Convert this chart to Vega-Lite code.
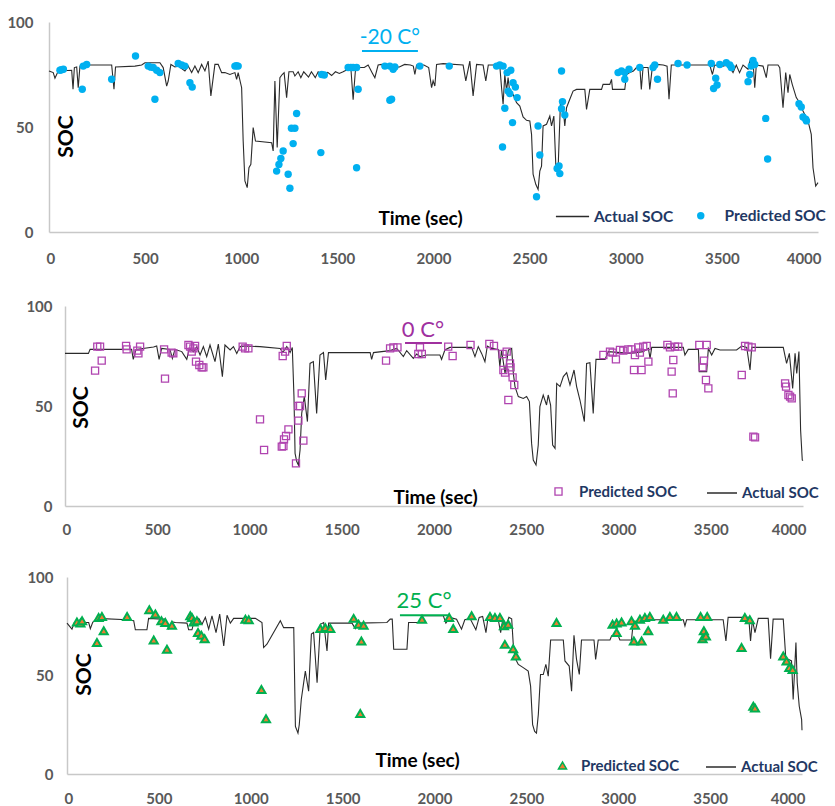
{
  "$schema": "https://vega.github.io/schema/vega-lite/v6.json",
  "background": "white",
  "padding": {"left": 0, "top": 15, "right": 0, "bottom": 0},
  "spacing": 32,
  "columns": 1,
  "config": {
    "view": {"stroke": null},
    "font": "Lato, sans-serif"
  },
  "datasets": {
    "p1a": [
      {"t":0,"soc":76.7},{"t":22,"soc":75.9},{"t":31,"soc":73.2},{"t":48,"soc":76.7},{"t":118,"soc":77},{"t":125,"soc":68},{"t":132,"soc":78.3},{"t":144,"soc":78.6},{"t":152,"soc":68.7},{"t":161,"soc":79},{"t":170,"soc":79.5},{"t":326,"soc":79.5},{"t":338,"soc":68},{"t":346,"soc":78.6},{"t":447,"soc":79},{"t":482,"soc":79.5},{"t":499,"soc":80.6},{"t":577,"soc":80.6},{"t":594,"soc":78.3},{"t":612,"soc":69.5},{"t":620,"soc":71.9},{"t":634,"soc":79.8},{"t":655,"soc":78.6},{"t":672,"soc":79},{"t":707,"soc":76.7},{"t":724,"soc":79},{"t":742,"soc":75.9},{"t":759,"soc":79},{"t":776,"soc":75.9},{"t":794,"soc":79.8},{"t":811,"soc":76.7},{"t":828,"soc":81.4},{"t":842,"soc":64.8},{"t":863,"soc":79.8},{"t":880,"soc":79.8},{"t":898,"soc":75.9},{"t":915,"soc":75.9},{"t":941,"soc":75},{"t":967,"soc":75.9},{"t":976,"soc":72.7},{"t":984,"soc":75.9},{"t":1002,"soc":68.7},{"t":1010,"soc":43.3},{"t":1019,"soc":24.3},{"t":1031,"soc":21.1},{"t":1040,"soc":30.6},{"t":1050,"soc":32.2},{"t":1062,"soc":49.7},{"t":1074,"soc":43.3},{"t":1158,"soc":42.5},{"t":1166,"soc":38.6},{"t":1175,"soc":71.9},{"t":1187,"soc":40.2},{"t":1201,"soc":73.5},{"t":1213,"soc":75},{"t":1223,"soc":75.9},{"t":1236,"soc":64},{"t":1248,"soc":76.3},{"t":1270,"soc":76.3},{"t":1279,"soc":74.3},{"t":1296,"soc":76.3},{"t":1310,"soc":73.5},{"t":1325,"soc":76.3},{"t":1350,"soc":73.8},{"t":1365,"soc":76.3},{"t":1385,"soc":73.5},{"t":1400,"soc":76.3},{"t":1420,"soc":75},{"t":1450,"soc":76},{"t":1470,"soc":74.5},{"t":1490,"soc":76.3},{"t":1510,"soc":75.5},{"t":1530,"soc":76.3},{"t":1555,"soc":77.5},{"t":1570,"soc":78.3},{"t":1582,"soc":63},{"t":1595,"soc":78.3},{"t":1640,"soc":78.3},{"t":1660,"soc":79.5},{"t":1680,"soc":76},{"t":1695,"soc":73.5},{"t":1712,"soc":79.5},{"t":1729,"soc":79.8},{"t":1760,"soc":78.5},{"t":1790,"soc":79.5},{"t":1820,"soc":78.5},{"t":1850,"soc":79.8},{"t":1880,"soc":79.5},{"t":1895,"soc":79},{"t":1903,"soc":75},{"t":1912,"soc":79.5},{"t":1950,"soc":79.5},{"t":1975,"soc":78.3},{"t":1990,"soc":68.7},{"t":1998,"soc":72},{"t":2007,"soc":69.5},{"t":2016,"soc":79.8},{"t":2050,"soc":80.2},{"t":2154,"soc":79.5},{"t":2168,"soc":72},{"t":2189,"soc":81.4},{"t":2206,"soc":64.8},{"t":2224,"soc":79.8},{"t":2258,"soc":79.5},{"t":2272,"soc":72},{"t":2285,"soc":79.5},{"t":2328,"soc":79.5},{"t":2345,"soc":79},{"t":2354,"soc":68.7},{"t":2362,"soc":60.8},{"t":2371,"soc":75},{"t":2380,"soc":67.1},{"t":2388,"soc":73.5},{"t":2397,"soc":66.3},{"t":2414,"soc":65.5},{"t":2432,"soc":61.6},{"t":2449,"soc":60},{"t":2466,"soc":54.8},{"t":2484,"soc":53.2},{"t":2501,"soc":52.9},{"t":2510,"soc":46.5},{"t":2518,"soc":27.5},{"t":2532,"soc":22.7},{"t":2544,"soc":20.3},{"t":2553,"soc":29},{"t":2562,"soc":31.4},{"t":2570,"soc":50.5},{"t":2588,"soc":51.3},{"t":2605,"soc":55.2},{"t":2614,"soc":50.5},{"t":2626,"soc":55.2},{"t":2636,"soc":32.2},{"t":2648,"soc":29.8},{"t":2660,"soc":60.8},{"t":2674,"soc":59.2},{"t":2683,"soc":50.5},{"t":2692,"soc":59.2},{"t":2709,"soc":63.2},{"t":2726,"soc":67.1},{"t":2744,"soc":67.9},{"t":2787,"soc":67.9},{"t":2796,"soc":58.4},{"t":2813,"soc":67.9},{"t":2874,"soc":67.9},{"t":2882,"soc":70.3},{"t":2917,"soc":70.3},{"t":2926,"soc":72.7},{"t":2931,"soc":67.9},{"t":2995,"soc":67.9},{"t":3004,"soc":75},{"t":3021,"soc":75.9},{"t":3040,"soc":76.7},{"t":3056,"soc":78.3},{"t":3073,"soc":79},{"t":3081,"soc":67.9},{"t":3090,"soc":78.3},{"t":3116,"soc":78.3},{"t":3125,"soc":67.9},{"t":3138,"soc":78.3},{"t":3160,"soc":79.8},{"t":3195,"soc":79.5},{"t":3215,"soc":79},{"t":3225,"soc":63.2},{"t":3237,"soc":79.5},{"t":3298,"soc":79.5},{"t":3437,"soc":79.5},{"t":3451,"soc":75},{"t":3462,"soc":79.5},{"t":3506,"soc":79},{"t":3525,"soc":79.5},{"t":3541,"soc":78.3},{"t":3558,"soc":75.9},{"t":3575,"soc":79.5},{"t":3592,"soc":75.9},{"t":3610,"soc":79.5},{"t":3636,"soc":77.5},{"t":3645,"soc":81.4},{"t":3662,"soc":81.4},{"t":3671,"soc":68.7},{"t":3679,"soc":79.5},{"t":3714,"soc":79},{"t":3731,"soc":73.5},{"t":3740,"soc":79.5},{"t":3792,"soc":79.5},{"t":3801,"soc":78.3},{"t":3818,"soc":59.2},{"t":3832,"soc":75.9},{"t":3844,"soc":66.3},{"t":3853,"soc":75},{"t":3866,"soc":70.3},{"t":3887,"soc":64},{"t":3905,"soc":61.6},{"t":3922,"soc":57.6},{"t":3948,"soc":52.9},{"t":3965,"soc":46.5},{"t":3974,"soc":30.6},{"t":3988,"soc":21.9},{"t":4000,"soc":23.5}
    ],
    "p1p": [
      {"t":57,"soc":77},{"t":75,"soc":77.5},{"t":65,"soc":77.3},{"t":178,"soc":79},{"t":196,"soc":79.8},{"t":173,"soc":68},{"t":326,"soc":72.7},{"t":450,"soc":83.8},{"t":516,"soc":79},{"t":530,"soc":78.5},{"t":542,"soc":78.3},{"t":560,"soc":77},{"t":577,"soc":75.9},{"t":551,"soc":63.2},{"t":672,"soc":80.2},{"t":690,"soc":79.5},{"t":707,"soc":79},{"t":733,"soc":71.1},{"t":745,"soc":69},{"t":967,"soc":79},{"t":984,"soc":79},{"t":975,"soc":79.2},{"t":1218,"soc":38.6},{"t":1206,"soc":35},{"t":1196,"soc":32.2},{"t":1184,"soc":29},{"t":1244,"soc":27.5},{"t":1253,"soc":20.8},{"t":1270,"soc":42.1},{"t":1261,"soc":49.4},{"t":1279,"soc":49.4},{"t":1288,"soc":56.4},{"t":1414,"soc":37.8},{"t":1432,"soc":74.8},{"t":1418,"soc":75},{"t":1556,"soc":78.3},{"t":1570,"soc":78.3},{"t":1582,"soc":78.3},{"t":1600,"soc":78.3},{"t":1608,"soc":68},{"t":1600,"soc":30.6},{"t":1747,"soc":79},{"t":1773,"soc":79},{"t":1799,"soc":78.6},{"t":1790,"soc":77.5},{"t":1782,"soc":63.2},{"t":1773,"soc":62.7},{"t":1929,"soc":79},{"t":2082,"soc":79},{"t":2328,"soc":79},{"t":2345,"soc":79.5},{"t":2362,"soc":79},{"t":2383,"soc":75.9},{"t":2402,"soc":77},{"t":2414,"soc":71.1},{"t":2426,"soc":69},{"t":2435,"soc":64},{"t":2388,"soc":67.1},{"t":2397,"soc":65.9},{"t":2371,"soc":58.9},{"t":2411,"soc":52.1},{"t":2359,"soc":40.5},{"t":2544,"soc":50.5},{"t":2553,"soc":36.7},{"t":2536,"soc":16.8},{"t":2666,"soc":76.7},{"t":2671,"soc":62.1},{"t":2666,"soc":58.7},{"t":2683,"soc":55.7},{"t":2643,"soc":30.2},{"t":2657,"soc":27.8},{"t":2653,"soc":31.4},{"t":2960,"soc":75.9},{"t":2978,"soc":76.7},{"t":2995,"soc":75.9},{"t":3017,"soc":77.5},{"t":2995,"soc":72.7},{"t":3073,"soc":78.3},{"t":3151,"soc":79.5},{"t":3142,"soc":78.3},{"t":3165,"soc":72.7},{"t":3272,"soc":80.2},{"t":3319,"soc":79.5},{"t":3445,"soc":80.2},{"t":3489,"soc":79.8},{"t":3523,"soc":80.6},{"t":3541,"soc":79.5},{"t":3549,"soc":78.3},{"t":3468,"soc":73.2},{"t":3475,"soc":70},{"t":3457,"soc":68.3},{"t":3636,"soc":71.6},{"t":3645,"soc":75},{"t":3653,"soc":79},{"t":3662,"soc":81.7},{"t":3671,"soc":79.8},{"t":3728,"soc":54.1},{"t":3738,"soc":34.8},{"t":3901,"soc":61.1},{"t":3913,"soc":59.5},{"t":3922,"soc":54.8},{"t":3936,"soc":53.7},{"t":3940,"soc":52.9}
    ],
    "p2a": [
      {"t":0,"soc":76.3},{"t":127,"soc":76.3},{"t":136,"soc":78.3},{"t":361,"soc":78.3},{"t":370,"soc":73.3},{"t":385,"soc":78.3},{"t":480,"soc":79.5},{"t":497,"soc":80},{"t":510,"soc":73.3},{"t":524,"soc":78.8},{"t":569,"soc":78.3},{"t":582,"soc":73.8},{"t":596,"soc":78.3},{"t":633,"soc":77.2},{"t":660,"soc":73.3},{"t":674,"soc":78.8},{"t":696,"soc":77.2},{"t":714,"soc":79.7},{"t":732,"soc":75.5},{"t":750,"soc":79.7},{"t":768,"soc":74.7},{"t":786,"soc":80.5},{"t":813,"soc":72.2},{"t":831,"soc":81},{"t":853,"soc":64.7},{"t":867,"soc":80.5},{"t":895,"soc":78},{"t":913,"soc":79.7},{"t":931,"soc":76.3},{"t":949,"soc":79.7},{"t":976,"soc":80},{"t":1057,"soc":79.7},{"t":1166,"soc":78.8},{"t":1180,"soc":76.7},{"t":1202,"soc":79.7},{"t":1220,"soc":76.7},{"t":1232,"soc":79.3},{"t":1241,"soc":54.7},{"t":1247,"soc":26.3},{"t":1256,"soc":22.2},{"t":1265,"soc":20.5},{"t":1274,"soc":28},{"t":1283,"soc":46.3},{"t":1297,"soc":54.7},{"t":1314,"soc":42.2},{"t":1328,"soc":71.3},{"t":1346,"soc":72.2},{"t":1364,"soc":46.3},{"t":1382,"soc":75.5},{"t":1401,"soc":76.7},{"t":1413,"soc":63},{"t":1428,"soc":76.7},{"t":1654,"soc":76.7},{"t":1662,"soc":73.3},{"t":1672,"soc":76.7},{"t":1762,"soc":77.7},{"t":1798,"soc":78.8},{"t":1834,"soc":74.7},{"t":1852,"soc":77.7},{"t":1888,"soc":73.8},{"t":1906,"soc":76},{"t":1925,"soc":74.7},{"t":1961,"soc":75.5},{"t":2032,"soc":75.5},{"t":2041,"soc":73.3},{"t":2059,"soc":78},{"t":2086,"soc":79.3},{"t":2204,"soc":79.3},{"t":2222,"soc":74.7},{"t":2240,"soc":79.7},{"t":2258,"soc":76.3},{"t":2276,"soc":72.2},{"t":2289,"soc":80},{"t":2312,"soc":78.8},{"t":2348,"soc":78.3},{"t":2357,"soc":69.7},{"t":2366,"soc":78},{"t":2385,"soc":66.3},{"t":2403,"soc":78},{"t":2421,"soc":78.8},{"t":2430,"soc":66.3},{"t":2439,"soc":59.7},{"t":2457,"soc":54.7},{"t":2484,"soc":53.8},{"t":2502,"soc":54.7},{"t":2517,"soc":52.2},{"t":2529,"soc":31.3},{"t":2538,"soc":23},{"t":2553,"soc":20.5},{"t":2565,"soc":30.5},{"t":2574,"soc":49.7},{"t":2592,"soc":55.5},{"t":2610,"soc":50.5},{"t":2619,"soc":55.5},{"t":2632,"soc":50.5},{"t":2643,"soc":30.5},{"t":2656,"soc":28.8},{"t":2665,"soc":61.3},{"t":2683,"soc":59.7},{"t":2701,"soc":64.7},{"t":2719,"soc":66.7},{"t":2737,"soc":60.5},{"t":2759,"soc":68},{"t":2773,"soc":59.7},{"t":2791,"soc":53},{"t":2815,"soc":42.2},{"t":2827,"soc":71.3},{"t":2845,"soc":71.7},{"t":2863,"soc":46.3},{"t":2878,"soc":73.3},{"t":2927,"soc":73.3},{"t":2945,"soc":77.2},{"t":3062,"soc":76.3},{"t":3134,"soc":77.2},{"t":3162,"soc":78.8},{"t":3171,"soc":73.8},{"t":3180,"soc":79.3},{"t":3261,"soc":79.3},{"t":3351,"soc":79.3},{"t":3360,"soc":75.5},{"t":3378,"soc":78.3},{"t":3433,"soc":78.3},{"t":3438,"soc":67.2},{"t":3478,"soc":67.2},{"t":3487,"soc":78.8},{"t":3505,"soc":75.5},{"t":3523,"soc":78.8},{"t":3550,"soc":78},{"t":3640,"soc":78},{"t":3668,"soc":80},{"t":3695,"soc":79.3},{"t":3713,"soc":68},{"t":3722,"soc":79.3},{"t":3893,"soc":79.3},{"t":3911,"soc":71.3},{"t":3926,"soc":76.3},{"t":3944,"soc":58.8},{"t":3957,"soc":76.3},{"t":3966,"soc":66.3},{"t":3978,"soc":77.2},{"t":3987,"soc":38},{"t":3996,"soc":23},{"t":4000,"soc":22.7}
    ],
    "p2p": [
      {"t":163,"soc":67.7},{"t":175,"soc":79.7},{"t":190,"soc":79.7},{"t":199,"soc":72.7},{"t":331,"soc":80},{"t":334,"soc":78.3},{"t":407,"soc":79.7},{"t":392,"soc":77.7},{"t":398,"soc":76.3},{"t":537,"soc":78.3},{"t":542,"soc":63.7},{"t":578,"soc":76.7},{"t":587,"soc":76.3},{"t":669,"soc":80.5},{"t":678,"soc":79.7},{"t":687,"soc":77.2},{"t":710,"soc":72.2},{"t":728,"soc":70.5},{"t":741,"soc":69.3},{"t":750,"soc":69.3},{"t":696,"soc":78.8},{"t":705,"soc":80},{"t":963,"soc":79.7},{"t":976,"soc":78.8},{"t":994,"soc":78.8},{"t":1057,"soc":43.3},{"t":1079,"soc":28},{"t":1175,"soc":29.7},{"t":1184,"soc":30},{"t":1187,"soc":33.3},{"t":1198,"soc":35},{"t":1211,"soc":38.3},{"t":1265,"soc":50},{"t":1274,"soc":50},{"t":1283,"soc":56.3},{"t":1265,"soc":42.7},{"t":1292,"soc":32.7},{"t":1252,"soc":21.3},{"t":1180,"soc":75},{"t":1193,"soc":77.2},{"t":1202,"soc":80},{"t":1740,"soc":72.7},{"t":1762,"soc":78.8},{"t":1780,"soc":79.3},{"t":1802,"soc":79.3},{"t":1915,"soc":76},{"t":1924,"soc":79.3},{"t":1934,"soc":76},{"t":2077,"soc":79.7},{"t":2101,"soc":75},{"t":2198,"soc":80.5},{"t":2300,"soc":81},{"t":2325,"soc":80},{"t":2372,"soc":76},{"t":2394,"soc":77.2},{"t":2376,"soc":68},{"t":2385,"soc":66.7},{"t":2412,"soc":71.3},{"t":2415,"soc":69.3},{"t":2426,"soc":64.3},{"t":2435,"soc":60.5},{"t":2403,"soc":53},{"t":2918,"soc":75.5},{"t":2954,"soc":77.2},{"t":2968,"soc":76.7},{"t":2986,"soc":73.3},{"t":3008,"soc":78},{"t":3026,"soc":77.7},{"t":3053,"soc":78.3},{"t":3071,"soc":78.3},{"t":3089,"soc":75.5},{"t":3107,"soc":79.3},{"t":3116,"soc":76.7},{"t":3134,"soc":79.7},{"t":3153,"soc":80},{"t":3162,"soc":72.2},{"t":3084,"soc":68},{"t":3125,"soc":68},{"t":3265,"soc":80.5},{"t":3279,"soc":79.3},{"t":3306,"soc":79.7},{"t":3324,"soc":79.7},{"t":3297,"soc":73},{"t":3288,"soc":67.2},{"t":3294,"soc":56.3},{"t":3438,"soc":80.5},{"t":3478,"soc":80.5},{"t":3463,"soc":72.7},{"t":3456,"soc":69.3},{"t":3474,"soc":63},{"t":3487,"soc":58.8},{"t":3668,"soc":65.5},{"t":3686,"soc":80},{"t":3704,"soc":79.7},{"t":3722,"soc":79.3},{"t":3731,"soc":34.7},{"t":3740,"soc":34.3},{"t":3903,"soc":61.3},{"t":3908,"soc":59.7},{"t":3921,"soc":55.5},{"t":3939,"soc":53.8},{"t":3930,"soc":54.7}
    ],
    "p3a": [
      {"t":0,"soc":76.6},{"t":27,"soc":73.5},{"t":40,"soc":76.9},{"t":118,"soc":76.9},{"t":127,"soc":73.8},{"t":140,"soc":77},{"t":163,"soc":79},{"t":327,"soc":78.3},{"t":363,"soc":77.8},{"t":372,"soc":73.2},{"t":435,"soc":73.2},{"t":444,"soc":79},{"t":517,"soc":78.6},{"t":535,"soc":78.6},{"t":553,"soc":73.8},{"t":571,"soc":77.2},{"t":590,"soc":76.9},{"t":653,"soc":76.6},{"t":662,"soc":73.2},{"t":680,"soc":73.2},{"t":695,"soc":78.6},{"t":717,"soc":79},{"t":735,"soc":76},{"t":753,"soc":79.5},{"t":771,"soc":73.5},{"t":789,"soc":80.3},{"t":811,"soc":71.8},{"t":831,"soc":81.2},{"t":853,"soc":65},{"t":871,"soc":80.6},{"t":889,"soc":76.6},{"t":907,"soc":79},{"t":1025,"soc":79},{"t":1061,"soc":76.9},{"t":1070,"soc":64.2},{"t":1088,"soc":65.9},{"t":1161,"soc":77.8},{"t":1179,"soc":74.3},{"t":1234,"soc":74.3},{"t":1243,"soc":24.2},{"t":1257,"soc":20.8},{"t":1264,"soc":25},{"t":1275,"soc":37.8},{"t":1297,"soc":52.2},{"t":1315,"soc":42},{"t":1330,"soc":71},{"t":1342,"soc":71.8},{"t":1361,"soc":46.3},{"t":1379,"soc":76},{"t":1397,"soc":76.9},{"t":1415,"soc":62.5},{"t":1424,"soc":76.6},{"t":1551,"soc":76.6},{"t":1569,"soc":73.8},{"t":1587,"soc":76.6},{"t":1741,"soc":76.9},{"t":1759,"soc":78.6},{"t":1770,"soc":78.6},{"t":1778,"soc":63.3},{"t":1850,"soc":63.3},{"t":1859,"soc":76.9},{"t":1923,"soc":76.9},{"t":1932,"soc":80.3},{"t":2048,"soc":80.3},{"t":2062,"soc":76.6},{"t":2084,"soc":79.5},{"t":2120,"soc":78.6},{"t":2147,"soc":73.5},{"t":2165,"soc":78.3},{"t":2193,"soc":79},{"t":2225,"soc":73.2},{"t":2243,"soc":79.5},{"t":2262,"soc":80},{"t":2280,"soc":71.8},{"t":2292,"soc":80},{"t":2320,"soc":79},{"t":2347,"soc":78.3},{"t":2360,"soc":71.8},{"t":2371,"soc":78.3},{"t":2392,"soc":76},{"t":2405,"soc":79.5},{"t":2420,"soc":78.8},{"t":2428,"soc":66.7},{"t":2438,"soc":59},{"t":2456,"soc":55.6},{"t":2483,"soc":54},{"t":2510,"soc":52.2},{"t":2523,"soc":44.6},{"t":2534,"soc":25},{"t":2545,"soc":21.6},{"t":2555,"soc":20.8},{"t":2565,"soc":30.2},{"t":2577,"soc":50.5},{"t":2592,"soc":50.5},{"t":2606,"soc":55.6},{"t":2619,"soc":49.7},{"t":2632,"soc":68},{"t":2701,"soc":68},{"t":2710,"soc":57.4},{"t":2733,"soc":54.8},{"t":2746,"soc":42},{"t":2759,"soc":70.4},{"t":2773,"soc":58.2},{"t":2788,"soc":50.5},{"t":2800,"soc":68},{"t":2868,"soc":68},{"t":2877,"soc":58.2},{"t":2891,"soc":68},{"t":2955,"soc":68},{"t":2964,"soc":70.1},{"t":3000,"soc":70.1},{"t":3009,"soc":68},{"t":3072,"soc":68},{"t":3082,"soc":77.2},{"t":3154,"soc":78.3},{"t":3354,"soc":78.3},{"t":3363,"soc":75.2},{"t":3372,"soc":78.3},{"t":3571,"soc":78.3},{"t":3586,"soc":67.5},{"t":3598,"soc":79.5},{"t":3710,"soc":79.5},{"t":3720,"soc":67.5},{"t":3730,"soc":78.3},{"t":3744,"soc":71.8},{"t":3762,"soc":79},{"t":3816,"soc":79},{"t":3829,"soc":58.5},{"t":3843,"soc":78.6},{"t":3898,"soc":78.6},{"t":3912,"soc":58.5},{"t":3925,"soc":58.2},{"t":3943,"soc":57.4},{"t":3952,"soc":37.8},{"t":3967,"soc":66.7},{"t":3974,"soc":46.3},{"t":3985,"soc":34.4},{"t":3998,"soc":27.6},{"t":4000,"soc":22.2}
    ],
    "p3p": [
      {"t":54,"soc":77.2},{"t":73,"soc":76.6},{"t":82,"soc":77.8},{"t":163,"soc":66.7},{"t":200,"soc":72.7},{"t":172,"soc":79.5},{"t":190,"soc":80},{"t":327,"soc":80},{"t":448,"soc":83.4},{"t":481,"soc":81.2},{"t":472,"soc":68},{"t":514,"soc":77.8},{"t":535,"soc":76.9},{"t":544,"soc":63.3},{"t":571,"soc":75.5},{"t":671,"soc":80.3},{"t":680,"soc":79.5},{"t":689,"soc":77.2},{"t":707,"soc":77.8},{"t":713,"soc":71.8},{"t":731,"soc":70.4},{"t":749,"soc":68.7},{"t":971,"soc":78.6},{"t":989,"soc":78.3},{"t":1058,"soc":42.9},{"t":1083,"soc":28},{"t":1379,"soc":73.8},{"t":1406,"soc":74.3},{"t":1433,"soc":73.8},{"t":1560,"soc":79},{"t":1587,"soc":76},{"t":1614,"soc":75.5},{"t":1602,"soc":67.5},{"t":1596,"soc":30.7},{"t":1932,"soc":78.6},{"t":2080,"soc":79.5},{"t":2102,"soc":73.8},{"t":2202,"soc":80.3},{"t":2302,"soc":80},{"t":2329,"soc":79.5},{"t":2356,"soc":79.5},{"t":2378,"soc":75.2},{"t":2401,"soc":76},{"t":2383,"soc":65.8},{"t":2428,"soc":63.6},{"t":2443,"soc":59.9},{"t":2664,"soc":76.9},{"t":2969,"soc":76},{"t":2991,"soc":76.6},{"t":3018,"soc":77.2},{"t":2991,"soc":71.8},{"t":3072,"soc":77.8},{"t":3091,"soc":75.5},{"t":3118,"soc":78.6},{"t":3145,"soc":79.5},{"t":3172,"soc":80},{"t":3085,"soc":67.5},{"t":3127,"soc":67.5},{"t":3163,"soc":72.7},{"t":3245,"soc":78.6},{"t":3281,"soc":80},{"t":3317,"soc":80},{"t":3448,"soc":80},{"t":3484,"soc":80},{"t":3466,"soc":72.7},{"t":3459,"soc":68.7},{"t":3477,"soc":70.1},{"t":3671,"soc":64.2},{"t":3689,"soc":79.5},{"t":3716,"soc":78.3},{"t":3735,"soc":34.4},{"t":3744,"soc":33.5},{"t":3898,"soc":59.9},{"t":3916,"soc":57.4},{"t":3931,"soc":54},{"t":3949,"soc":53.1}
    ]
  },
  "concat": [
    {
      "width": 769,
      "height": 210,
      "layer": [
        {
          "data": {"name": "p1a"},
          "mark": {"type": "line", "strokeWidth": 1.1},
          "encoding": {
            "x": {"field": "t", "type": "quantitative", "scale": {"domain": [0, 4000], "nice": false},
              "axis": {"title": "Time (sec)", "titleX": 371, "titleY": -14, "titleAngle": 0, "titleAlign": "center", "titleBaseline": "middle", "titleFontSize": 19, "titleFontWeight": "bold", "titleColor": "#000000",
                "values": [0, 500, 1000, 1500, 2000, 2500, 3000, 3500, 4000], "format": "d", "labelFlush": true, "labelFlushOffset": 3,
                "ticks": false, "tickSize": 0, "grid": false, "domainColor": "#C8C8C8", "domainWidth": 1.5,
                "labelPadding": 19.5, "labelFontSize": 15, "labelFontWeight": "bold", "labelColor": "#595959"}},
            "y": {"field": "soc", "type": "quantitative", "scale": {"domain": [0, 100], "nice": false},
              "axis": {"title": "SOC", "titleX": 17, "titleY": 114, "titleAngle": 270, "titleAlign": "center", "titleBaseline": "middle", "titleFontSize": 21, "titleFontWeight": "bold", "titleColor": "#000000",
                "values": [0, 50, 100], "grid": false, "ticks": true, "tickSize": 49, "tickOpacity": 0, "labelPadding": -33,
                "domainColor": "#C8C8C8", "domainWidth": 1.5, "labelFontSize": 15, "labelFontWeight": "bold", "labelColor": "#595959"}},
            "color": {"datum": "Actual SOC", "scale": {"range": ["#2b2b2b"]},
              "legend": {"orient": "none", "legendX": 506, "legendY": 177, "title": null, "padding": 0, "symbolType": "stroke", "symbolSize": 1100, "symbolStrokeWidth": 1.5, "labelOffset": 4, "labelFontSize": 15.5, "labelFontWeight": "bold", "labelColor": "#1F3864"}}
          }
        },
        {
          "data": {"name": "p1p"},
          "mark": {"type": "point", "filled": true, "color": "#00B0F0", "size": 55, "opacity": 1},
          "encoding": {
            "x": {"field": "t", "type": "quantitative", "axis": {"title": "Time (sec)"}},
            "y": {"field": "soc", "type": "quantitative", "axis": {"title": "SOC"}},
            "shape": {"datum": "Predicted SOC", "scale": {"range": ["circle"]},
              "legend": {"orient": "none", "legendX": 644, "legendY": 186, "title": null, "padding": 0, "symbolSize": 55, "labelOffset": 16, "labelFontSize": 15.5, "labelFontWeight": "bold", "labelColor": "#1F3864"}}
          }
        },
        {
          "data": {"values": [{}]},
          "mark": {"type": "text", "text": "-20 C°", "color": "#00B0F0", "fontSize": 21, "align": "center", "baseline": "middle"},
          "encoding": {"x": {"datum": 1773, "type": "quantitative", "axis": {"title": "Time (sec)"}}, "y": {"datum": 92.4, "type": "quantitative", "axis": {"title": "SOC"}}}
        },
        {
          "data": {"values": [{}]},
          "mark": {"type": "rule", "color": "#00B0F0", "strokeWidth": 2},
          "encoding": {"x": {"datum": 1628, "type": "quantitative", "axis": {"title": "Time (sec)"}}, "x2": {"datum": 1919}, "y": {"datum": 86.2, "type": "quantitative", "axis": {"title": "SOC"}}}
        }
      ]
    },
    {
      "width": 754,
      "height": 200,
      "layer": [
        {
          "data": {"name": "p2a"},
          "mark": {"type": "line", "strokeWidth": 1.1},
          "encoding": {
            "x": {"field": "t", "type": "quantitative", "scale": {"domain": [0, 4000], "nice": false, "range": [16, 754]},
              "axis": {"title": "Time (sec)", "titleX": 386, "titleY": -9, "titleAngle": 0, "titleAlign": "center", "titleBaseline": "middle", "titleFontSize": 19, "titleFontWeight": "bold", "titleColor": "#000000",
                "values": [0, 500, 1000, 1500, 2000, 2500, 3000, 3500, 4000], "format": "d", "labelFlush": true, "labelFlushOffset": 3,
                "ticks": false, "tickSize": 0, "grid": false, "domainColor": "#C8C8C8", "domainWidth": 1.5,
                "labelPadding": 16.5, "labelFontSize": 15, "labelFontWeight": "bold", "labelColor": "#595959"}},
            "y": {"field": "soc", "type": "quantitative", "scale": {"domain": [0, 100], "nice": false},
              "axis": {"title": "SOC", "titleX": 16, "titleY": 101, "titleAngle": 270, "titleAlign": "center", "titleBaseline": "middle", "titleFontSize": 21, "titleFontWeight": "bold", "titleColor": "#000000",
                "offset": -16, "values": [0, 50, 100], "grid": false, "ticks": true, "tickSize": 65, "tickOpacity": 0, "labelPadding": -52,
                "domainColor": "#C8C8C8", "domainWidth": 1.5, "labelFontSize": 15, "labelFontWeight": "bold", "labelColor": "#595959"}},
            "color": {"datum": "Actual SOC", "scale": {"range": ["#2b2b2b"]},
              "legend": {"orient": "none", "legendX": 657, "legendY": 171, "title": null, "padding": 0, "symbolType": "stroke", "symbolSize": 900, "symbolStrokeWidth": 1.5, "labelOffset": 4, "labelFontSize": 15, "labelFontWeight": "bold", "labelColor": "#1F3864"}}
          }
        },
        {
          "data": {"name": "p2p"},
          "mark": {"type": "point", "shape": "square", "filled": false, "color": "#B044B0", "strokeWidth": 1.3, "size": 50, "opacity": 1},
          "encoding": {
            "x": {"field": "t", "type": "quantitative", "axis": {"title": "Time (sec)"}},
            "y": {"field": "soc", "type": "quantitative", "axis": {"title": "SOC"}},
            "shape": {"datum": "Predicted SOC", "scale": {"range": ["square"]},
              "legend": {"orient": "none", "legendX": 502, "legendY": 178, "title": null, "padding": 0, "symbolSize": 50, "symbolStrokeWidth": 1.3, "labelOffset": 13, "labelFontSize": 15, "labelFontWeight": "bold", "labelColor": "#1F3864"}}
          }
        },
        {
          "data": {"values": [{}]},
          "mark": {"type": "text", "text": "0 C°", "color": "#A0309F", "fontSize": 22, "align": "center", "baseline": "middle"},
          "encoding": {"x": {"datum": 1940, "type": "quantitative", "axis": {"title": "Time (sec)"}}, "y": {"datum": 88, "type": "quantitative", "axis": {"title": "SOC"}}}
        },
        {
          "data": {"values": [{}]},
          "mark": {"type": "rule", "color": "#A0309F", "strokeWidth": 2},
          "encoding": {"x": {"datum": 1843, "type": "quantitative", "axis": {"title": "Time (sec)"}}, "x2": {"datum": 2043}, "y": {"datum": 81.5, "type": "quantitative", "axis": {"title": "SOC"}}}
        }
      ]
    },
    {
      "width": 753,
      "height": 197,
      "layer": [
        {
          "data": {"name": "p3a"},
          "mark": {"type": "line", "strokeWidth": 1.1},
          "encoding": {
            "x": {"field": "t", "type": "quantitative", "scale": {"domain": [0, 4000], "nice": false, "range": [18, 753]},
              "axis": {"title": "Time (sec)", "titleX": 368, "titleY": -14, "titleAngle": 0, "titleAlign": "center", "titleBaseline": "middle", "titleFontSize": 19, "titleFontWeight": "bold", "titleColor": "#000000",
                "values": [0, 500, 1000, 1500, 2000, 2500, 3000, 3500, 4000], "format": "d", "labelFlush": true, "labelFlushOffset": 3,
                "ticks": false, "tickSize": 0, "grid": false, "domainColor": "#C8C8C8", "domainWidth": 1.5,
                "labelPadding": 17.5, "labelFontSize": 15, "labelFontWeight": "bold", "labelColor": "#595959"}},
            "y": {"field": "soc", "type": "quantitative", "scale": {"domain": [0, 100], "nice": false},
              "axis": {"title": "SOC", "titleX": 17, "titleY": 97, "titleAngle": 270, "titleAlign": "center", "titleBaseline": "middle", "titleFontSize": 21, "titleFontWeight": "bold", "titleColor": "#000000",
                "offset": -18, "values": [0, 50, 100], "grid": false, "ticks": true, "tickSize": 67, "tickOpacity": 0, "labelPadding": -53,
                "domainColor": "#C8C8C8", "domainWidth": 1.5, "labelFontSize": 15, "labelFontWeight": "bold", "labelColor": "#595959"}},
            "color": {"datum": "Actual SOC", "scale": {"range": ["#2b2b2b"]},
              "legend": {"orient": "none", "legendX": 656, "legendY": 174, "title": null, "padding": 0, "symbolType": "stroke", "symbolSize": 900, "symbolStrokeWidth": 1.5, "labelOffset": 4, "labelFontSize": 15, "labelFontWeight": "bold", "labelColor": "#1F3864"}}
          }
        },
        {
          "data": {"name": "p3p"},
          "mark": {"type": "point", "shape": "triangle-up", "filled": true, "fill": "#ED7D31", "stroke": "#00B050", "strokeWidth": 2, "size": 65, "opacity": 1},
          "encoding": {
            "x": {"field": "t", "type": "quantitative", "axis": {"title": "Time (sec)"}},
            "y": {"field": "soc", "type": "quantitative", "axis": {"title": "SOC"}},
            "shape": {"datum": "Predicted SOC", "scale": {"range": ["triangle-up"]},
              "legend": {"orient": "none", "legendX": 506, "legendY": 181, "title": null, "padding": 0, "symbolSize": 65, "labelOffset": 11, "labelFontSize": 15, "labelFontWeight": "bold", "labelColor": "#1F3864",
                "encode": {"symbols": {"update": {"fill": {"value": "#ED7D31"}, "stroke": {"value": "#00B050"}, "strokeWidth": {"value": 2}}}}}}
          }
        },
        {
          "data": {"values": [{}]},
          "mark": {"type": "text", "text": "25 C°", "color": "#00B050", "fontSize": 22, "align": "center", "baseline": "middle"},
          "encoding": {"x": {"datum": 1943, "type": "quantitative", "axis": {"title": "Time (sec)"}}, "y": {"datum": 87.8, "type": "quantitative", "axis": {"title": "SOC"}}}
        },
        {
          "data": {"values": [{}]},
          "mark": {"type": "rule", "color": "#00B050", "strokeWidth": 2},
          "encoding": {"x": {"datum": 1812, "type": "quantitative", "axis": {"title": "Time (sec)"}}, "x2": {"datum": 2073}, "y": {"datum": 80.6, "type": "quantitative", "axis": {"title": "SOC"}}}
        }
      ]
    }
  ],
  "resolve": {
    "scale": {"x": "independent", "y": "independent", "color": "independent", "shape": "independent"},
    "legend": {"color": "independent", "shape": "independent"}
  }
}
